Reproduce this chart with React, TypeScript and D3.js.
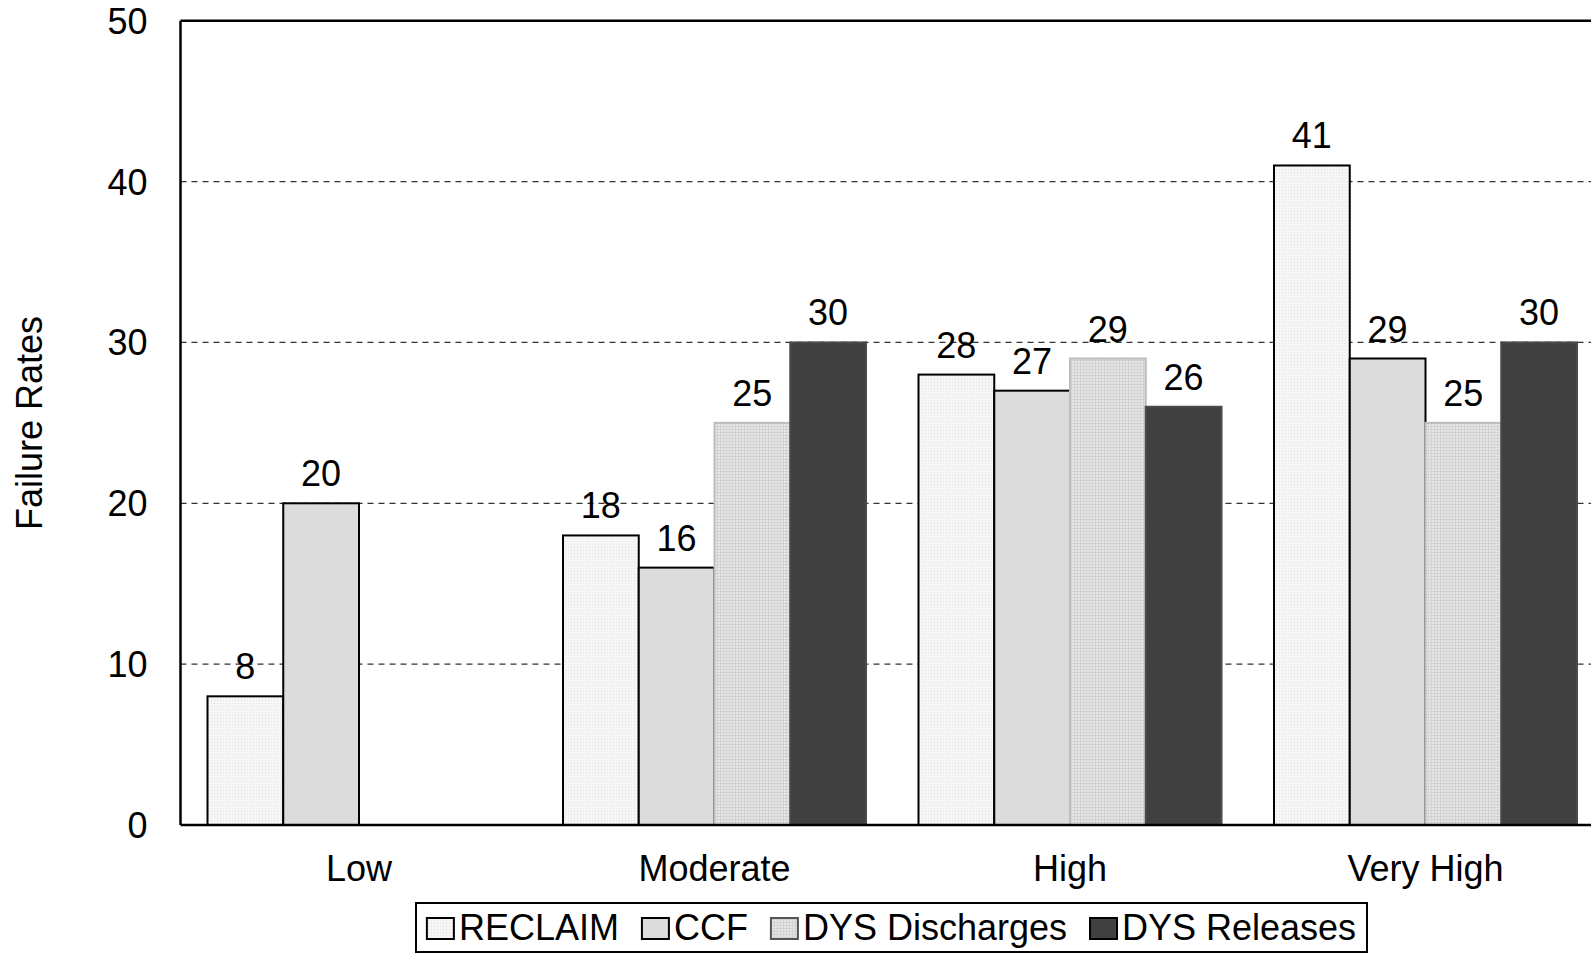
import React, { useEffect, useRef } from "react";
import * as d3 from "d3";

const categories = ["Low", "Moderate", "High", "Very High"];
const seriesNames = ["RECLAIM", "CCF", "DYS Discharges", "DYS Releases"];
const reclaim = [8, 18, 28, 41];
const ccf = [20, 16, 27, 29];
const dysDischarges: (number | null)[] = [null, 25, 29, 25];
const dysReleases: (number | null)[] = [null, 30, 26, 30];
const yTicks = [0, 10, 20, 30, 40, 50];

const W = 1591;
const H = 954;
const FONT = "'Liberation Sans', Arial, Helvetica, sans-serif";
const FS = 36;

export default function App() {
  const ref = useRef<SVGSVGElement>(null);

  useEffect(() => {
    const svg = d3.select(ref.current);
    svg.selectAll("*").remove();

    const left = 180.5;
    const top = 20.7;
    const bottom = 825;
    const band = 355.5;
    const right = left + band * categories.length;

    const x = d3.scaleBand<string>().domain(categories).range([left, right]).padding(0);
    const xs = d3.scaleBand<string>().domain(seriesNames).range([27, 27 + 303]).padding(0);
    const y = d3.scaleLinear().domain([0, 50]).range([bottom, top]);

    const defs = svg.append("defs");
    const p1 = defs.append("pattern").attr("id", "dots").attr("width", 3).attr("height", 3).attr("patternUnits", "userSpaceOnUse");
    p1.append("rect").attr("width", 3).attr("height", 3).attr("fill", "#f6f6f6");
    p1.append("rect").attr("x", 1).attr("y", 1).attr("width", 1).attr("height", 1).attr("fill", "#e2e2e2");
    const p2 = defs.append("pattern").attr("id", "grid").attr("width", 3).attr("height", 3).attr("patternUnits", "userSpaceOnUse");
    p2.append("rect").attr("width", 3).attr("height", 3).attr("fill", "#e6e6e6");
    p2.append("rect").attr("x", 0).attr("y", 0).attr("width", 3).attr("height", 1).attr("fill", "#d2d2d2");
    p2.append("rect").attr("x", 0).attr("y", 0).attr("width", 1).attr("height", 3).attr("fill", "#d2d2d2");

    const styles: Record<string, { fill: string; stroke: string }> = {
      "RECLAIM": { fill: "url(#dots)", stroke: "#000" },
      "CCF": { fill: "#dcdcdc", stroke: "#000" },
      "DYS Discharges": { fill: "url(#grid)", stroke: "#bdbdbd" },
      "DYS Releases": { fill: "#404040", stroke: "#4a4a4a" },
    };

    svg.append("rect").attr("width", W).attr("height", H).attr("fill", "#fff");

    svg.append("g")
      .selectAll("line")
      .data(yTicks.filter((t) => t > 0 && t < 50))
      .join("line")
      .attr("x1", left)
      .attr("x2", right)
      .attr("y1", (d) => y(d))
      .attr("y2", (d) => y(d))
      .attr("stroke", "#333")
      .attr("stroke-width", 1.3)
      .attr("stroke-dasharray", "6,5");

    const allSeries = [reclaim, ccf, dysDischarges, dysReleases];
    const bars: { cat: string; s: string; v: number }[] = [];
    categories.forEach((c, i) => {
      seriesNames.forEach((s, j) => {
        const v = allSeries[j][i];
        if (v !== null && v !== undefined) bars.push({ cat: c, s, v });
      });
    });

    svg.append("g")
      .selectAll("rect")
      .data(bars)
      .join("rect")
      .attr("x", (d) => (x(d.cat) as number) + (xs(d.s) as number))
      .attr("y", (d) => y(d.v))
      .attr("width", xs.bandwidth())
      .attr("height", (d) => bottom - y(d.v))
      .attr("fill", (d) => styles[d.s].fill)
      .attr("stroke", (d) => styles[d.s].stroke)
      .attr("stroke-width", 2);

    svg.append("g")
      .selectAll("text")
      .data(bars)
      .join("text")
      .attr("x", (d) => (x(d.cat) as number) + (xs(d.s) as number) + xs.bandwidth() / 2)
      .attr("y", (d) => y(d.v) - 17)
      .attr("text-anchor", "middle")
      .attr("font-family", FONT)
      .attr("font-size", FS)
      .attr("fill", "#000")
      .text((d) => String(d.v));

    svg.append("line").attr("x1", left).attr("x2", left).attr("y1", top).attr("y2", bottom).attr("stroke", "#000").attr("stroke-width", 2.5);
    svg.append("line").attr("x1", left).attr("x2", right).attr("y1", top).attr("y2", top).attr("stroke", "#000").attr("stroke-width", 2.5);
    svg.append("line").attr("x1", right).attr("x2", right).attr("y1", top).attr("y2", bottom).attr("stroke", "#000").attr("stroke-width", 2.5);
    svg.append("line").attr("x1", left).attr("x2", right).attr("y1", bottom).attr("y2", bottom).attr("stroke", "#000").attr("stroke-width", 2.5);

    svg.append("g")
      .selectAll("text")
      .data(yTicks)
      .join("text")
      .attr("x", left - 33)
      .attr("y", (d) => y(d) + 13)
      .attr("text-anchor", "end")
      .attr("font-family", FONT)
      .attr("font-size", FS)
      .text((d) => String(d));

    svg.append("g")
      .selectAll("text")
      .data(categories)
      .join("text")
      .attr("x", (d) => (x(d) as number) + xs(seriesNames[0])! + 303 / 2)
      .attr("y", 881)
      .attr("text-anchor", "middle")
      .attr("font-family", FONT)
      .attr("font-size", FS)
      .text((d) => d);

    svg.append("text")
      .attr("transform", `translate(42,423) rotate(-90)`)
      .attr("text-anchor", "middle")
      .attr("font-family", FONT)
      .attr("font-size", FS)
      .text("Failure Rates");

    const lg = svg.append("g");
    const box = lg.append("rect").attr("fill", "#fff").attr("stroke", "#000").attr("stroke-width", 2);
    const sw = 27, sh = 21, gapText = 5, gapItem = 23;
    let cx = 0;
    const items = lg.append("g");
    seriesNames.forEach((s) => {
      const g = items.append("g").attr("transform", `translate(${cx},0)`);
      g.append("rect").attr("x", 0).attr("y", -sh - 1).attr("width", sw).attr("height", sh)
        .attr("fill", styles[s].fill).attr("stroke", s === "DYS Discharges" ? "#555" : "#000").attr("stroke-width", 2);
      const t = g.append("text").attr("x", sw + gapText).attr("y", 0).attr("font-family", FONT).attr("font-size", FS).text(s);
      const tw = (t.node() as SVGTextElement).getComputedTextLength();
      cx += sw + gapText + tw + gapItem;
    });
    const totalW = cx - gapItem;
    const boxL = 416, boxR = 1367;
    const startX = (boxL + boxR) / 2 - totalW / 2;
    items.attr("transform", `translate(${startX},940)`);
    box.attr("x", boxL).attr("y", 903).attr("width", boxR - boxL).attr("height", 49);
  }, []);

  return (
    <svg
      ref={ref}
      width={W}
      height={H}
      style={{ position: "absolute", left: 0, top: 0, display: "block", overflow: "hidden" }}
    />
  );
}
